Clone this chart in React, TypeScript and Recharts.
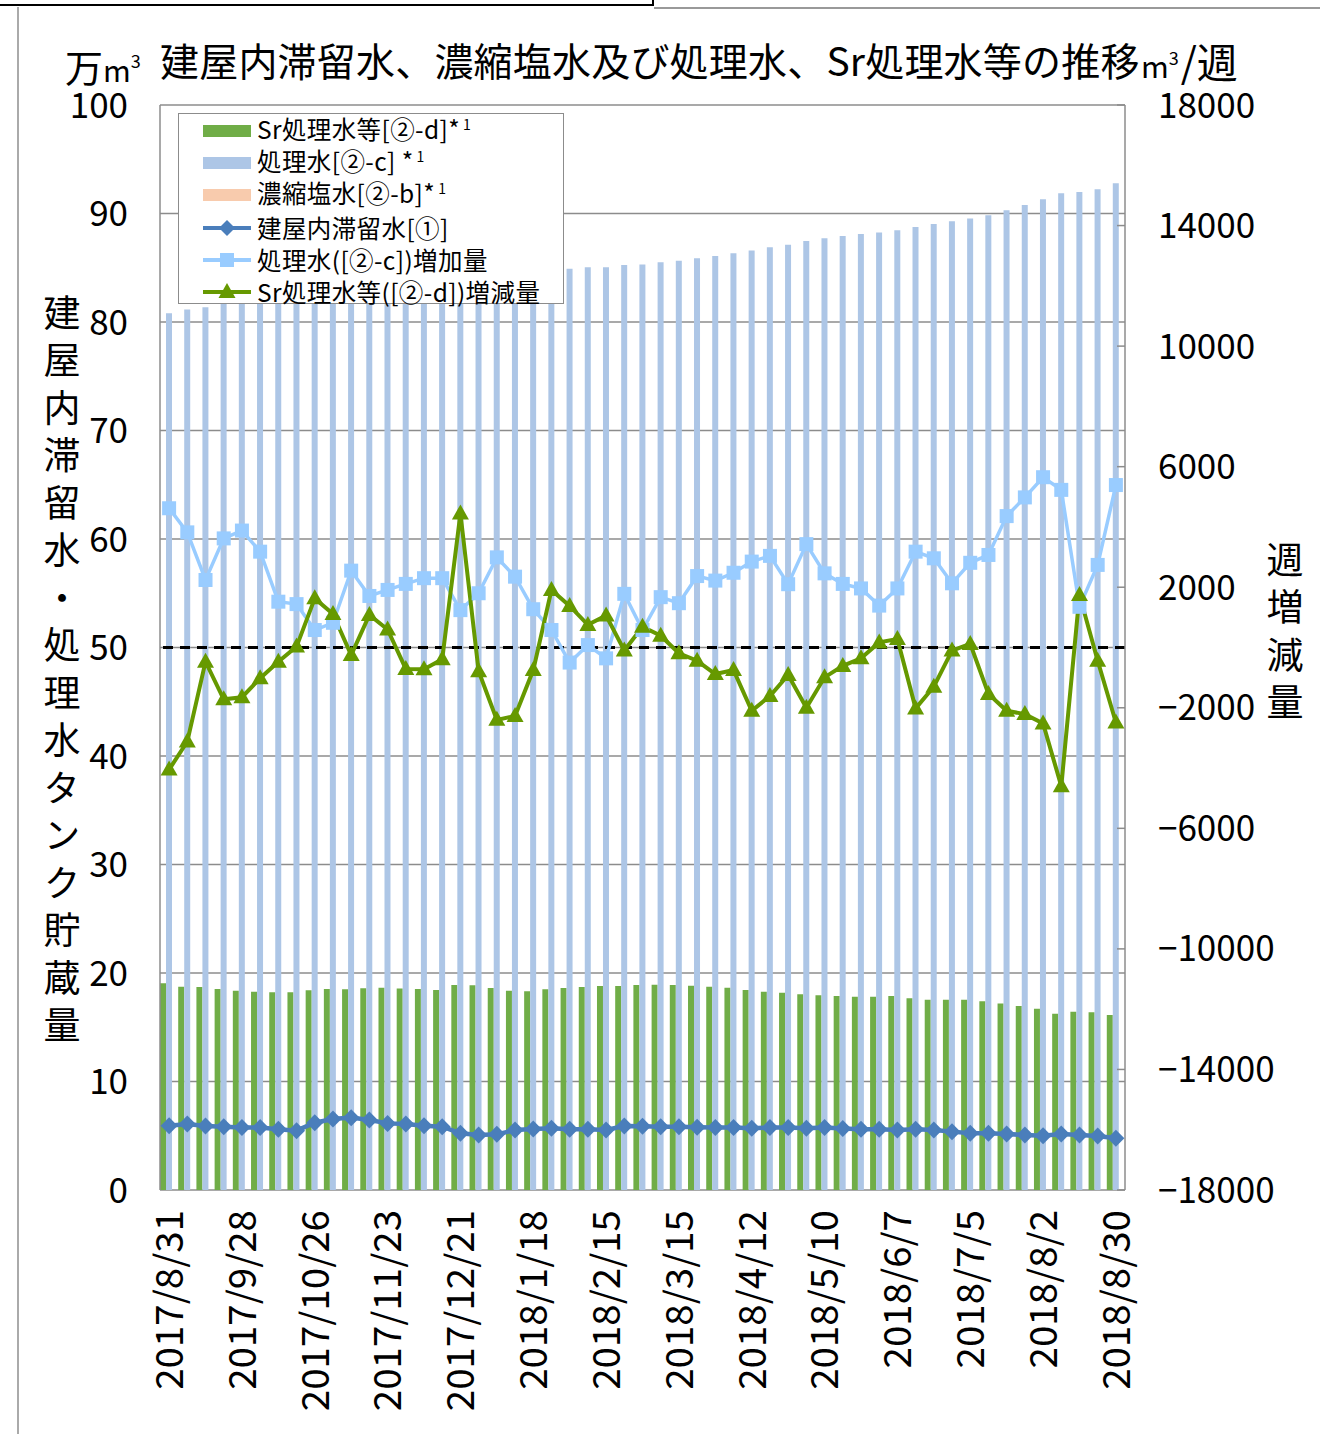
import React from 'react';
import { ComposedChart, Bar, Line, XAxis, YAxis, CartesianGrid, ReferenceLine } from 'recharts';

const FONT = '"Noto Sans CJK JP", "Noto Sans", sans-serif';

const dates = [
  '2017/8/31', '2017/9/7', '2017/9/14', '2017/9/21', '2017/9/28', '2017/10/5', '2017/10/12', '2017/10/19',
  '2017/10/26', '2017/11/2', '2017/11/9', '2017/11/16', '2017/11/23', '2017/11/30', '2017/12/7', '2017/12/14',
  '2017/12/21', '2017/12/28', '2018/1/4', '2018/1/11', '2018/1/18', '2018/1/25', '2018/2/1', '2018/2/8',
  '2018/2/15', '2018/2/22', '2018/3/1', '2018/3/8', '2018/3/15', '2018/3/22', '2018/3/29', '2018/4/5',
  '2018/4/12', '2018/4/19', '2018/4/26', '2018/5/3', '2018/5/10', '2018/5/17', '2018/5/24', '2018/5/31',
  '2018/6/7', '2018/6/14', '2018/6/21', '2018/6/28', '2018/7/5', '2018/7/12', '2018/7/19', '2018/7/26',
  '2018/8/2', '2018/8/9', '2018/8/16', '2018/8/23', '2018/8/30',
];

// 万m3 (left axis)
const srWater = [
  19.05, 18.74, 18.71, 18.53, 18.37, 18.28, 18.22, 18.22, 18.40, 18.53,
  18.50, 18.59, 18.65, 18.56, 18.53, 18.43, 18.89, 18.86, 18.62, 18.37,
  18.31, 18.50, 18.62, 18.71, 18.80, 18.80, 18.89, 18.92, 18.89, 18.83,
  18.74, 18.65, 18.43, 18.28, 18.19, 18.03, 17.94, 17.88, 17.82, 17.82,
  17.88, 17.67, 17.54, 17.54, 17.54, 17.39, 17.20, 16.96, 16.71, 16.25,
  16.44, 16.38, 16.13,
];

const treatedWater = [
  80.80, 81.15, 81.35, 81.70, 82.05, 82.35, 82.50, 82.60, 82.65, 82.75,
  83.00, 83.15, 83.35, 83.55, 83.75, 84.00, 84.10, 84.25, 84.50, 84.70,
  84.80, 84.85, 84.90, 85.05, 85.05, 85.25, 85.30, 85.50, 85.65, 85.87,
  86.08, 86.33, 86.60, 86.90, 87.12, 87.47, 87.71, 87.93, 88.11, 88.26,
  88.45, 88.76, 89.03, 89.28, 89.55, 89.83, 90.30, 90.78, 91.31, 91.86,
  91.98, 92.23, 92.78,
];

const concWater = [
  0, 0, 0, 0, 0, 0, 0, 0, 0, 0,
  0, 0, 0, 0, 0, 0, 0, 0, 0, 0,
  0, 0, 0, 0, 0, 0, 0, 0, 0, 0,
  0, 0, 0, 0, 0, 0, 0, 0, 0, 0,
  0, 0, 0, 0, 0, 0, 0, 0, 0, 0,
  0, 0, 0,
];

const buildingWater = [
  5.93, 6.08, 5.90, 5.84, 5.75, 5.75, 5.59, 5.47, 6.20, 6.54,
  6.67, 6.45, 6.14, 6.08, 5.93, 5.84, 5.22, 5.07, 5.13, 5.53,
  5.62, 5.68, 5.59, 5.59, 5.53, 5.90, 5.87, 5.84, 5.84, 5.78,
  5.75, 5.75, 5.68, 5.75, 5.75, 5.68, 5.75, 5.66, 5.59, 5.59,
  5.53, 5.59, 5.53, 5.38, 5.22, 5.22, 5.16, 5.07, 5.01, 5.16,
  5.07, 4.98, 4.76,
];

// m3/週 (right axis)
const treatedIncrease = [
  4620, 3820, 2240, 3620, 3880, 3180, 1520, 1440, 580, 820,
  2550, 1710, 1910, 2110, 2300, 2300, 1240, 1800, 2990, 2350,
  1270, 580, -500, 80, -360, 1780, 580, 1670, 1470, 2370,
  2220, 2480, 2850, 3040, 2100, 3430, 2460, 2110, 1960, 1390,
  1960, 3180, 2960, 2130, 2810, 3070, 4360, 4980, 5650, 5230,
  1350, 2740, 5390,
];

const srChange = [
  -4050, -3120, -470, -1720, -1650, -1020, -470, 30, 1630, 1110,
  -250, 1080, 600, -710, -720, -390, 4450, -790, -2400, -2270,
  -750, 1910, 1380, 750, 1060, -100, 690, 390, -190, -440,
  -880, -750, -2100, -1610, -910, -2000, -990, -610, -360, 170,
  280, -2020, -1300, -100, 120, -1540, -2100, -2210, -2520, -4600,
  1740, -440, -2490,
];

const leftTicks = [0, 10, 20, 30, 40, 50, 60, 70, 80, 90, 100];
const rightTicks = [-18000, -14000, -10000, -6000, -2000, 2000, 6000, 10000, 14000, 18000];

const rows = dates.map((d, i) => ({
  date: d,
  sr: srWater[i],
  treated: treatedWater[i],
  conc: concWater[i],
  building: buildingWater[i],
  tInc: treatedIncrease[i],
  sInc: srChange[i],
}));

const C_SR = '#70AD47';
const C_TREATED = '#ADC6E6';
const C_CONC = '#F8CBAD';
const C_BUILD = '#4A7EBB';
const C_TINC = '#99CCFF';
const C_SINC = '#669900';
const GRID = '#8c8c8c';

const TICK_FS = 35;
const XTICK_FS = 38.5;

const LeftTick = (p: any) => (
  <text x={p.x} y={p.y} dy="0.36em" textAnchor="end" fontSize={TICK_FS} fontFamily={FONT} fill="#000">
    {p.payload.value}
  </text>
);

const R_MARGIN = 33;
const RightTick = (p: any) => {
  const v = p.payload.value;
  const label = v < 0 ? '\u2212' + Math.abs(v) : String(v);
  const ax = p.x - R_MARGIN;
  return (
    <g>
      <line x1={ax - 8} x2={ax} y1={p.y} y2={p.y} stroke={GRID} strokeWidth={1.5} />
      <text x={p.x} y={p.y} dy="0.36em" textAnchor="start" fontSize={TICK_FS} fontFamily={FONT} fill="#000">
        {label}
      </text>
    </g>
  );
};

const XTick = (p: any) => (
  <text
    x={p.x}
    y={p.y}
    dy="0.36em"
    textAnchor="end"
    transform={`rotate(-90 ${p.x} ${p.y})`}
    fontSize={XTICK_FS}
    fontFamily={FONT}
    fill="#000"
  >
    {p.payload.value}
  </text>
);

const Diamond = (p: any) => {
  const { cx, cy } = p;
  if (cx == null || cy == null) return <g key={`dm-${p.index}`} />;
  const s = 8.5;
  return <path key={`dm-${p.index}`} d={`M${cx},${cy - s}L${cx + s},${cy}L${cx},${cy + s}L${cx - s},${cy}Z`} fill={C_BUILD} />;
};

const Square = (p: any) => {
  const { cx, cy } = p;
  if (cx == null || cy == null) return <g key={`sq-${p.index}`} />;
  const s = 7;
  return <rect key={`sq-${p.index}`} x={cx - s} y={cy - s} width={2 * s} height={2 * s} fill={C_TINC} />;
};

const Triangle = (p: any) => {
  const { cx, cy } = p;
  if (cx == null || cy == null) return <g key={`tr-${p.index}`} />;
  return <path key={`tr-${p.index}`} d={`M${cx},${cy - 9}L${cx + 8.5},${cy + 6}L${cx - 8.5},${cy + 6}Z`} fill={C_SINC} />;
};

const legendItems = [
  { kind: 'bar', color: C_SR, label: 'Sr処理水等[②-d]*', sup: '1' },
  { kind: 'bar', color: C_TREATED, label: '処理水[②-c] *', sup: '1' },
  { kind: 'bar', color: C_CONC, label: '濃縮塩水[②-b]*', sup: '1' },
  { kind: 'diamond', color: C_BUILD, label: '建屋内滞留水[①]', sup: '' },
  { kind: 'square', color: C_TINC, label: '処理水([②-c])増加量', sup: '' },
  { kind: 'triangle', color: C_SINC, label: 'Sr処理水等([②-d])増減量', sup: '' },
];

const LegendIcon = ({ kind, color }: { kind: string; color: string }) => (
  <svg width={48} height={20} style={{ display: 'block' }}>
    {kind === 'bar' && <rect x={0} y={4} width={48} height={12} fill={color} />}
    {kind !== 'bar' && <line x1={0} x2={48} y1={10} y2={10} stroke={color} strokeWidth={4} />}
    {kind === 'diamond' && <path d="M24,2L32,10L24,18L16,10Z" fill={color} />}
    {kind === 'square' && <rect x={17} y={3} width={14} height={14} fill={color} />}
    {kind === 'triangle' && <path d="M24,1L32.5,16L15.5,16Z" fill={color} />}
  </svg>
);

const VerticalText = ({ text, left, top }: { text: string; left: number; top: number }) => (
  <div
    style={{
      position: 'absolute',
      left,
      top,
      width: 44,
      writingMode: 'vertical-rl',
      fontSize: 37,
      lineHeight: '44px',
      letterSpacing: '10.5px',
      fontFamily: FONT,
      color: '#000',
      whiteSpace: 'nowrap',
    }}
  >
    {text}
  </div>
);

export default function App() {
  return (
    <div style={{ position: 'absolute', left: 0, top: 0, width: 1320, height: 1434, background: '#fff', overflow: 'hidden' }}>
      {/* page frame fragments */}
      <div style={{ position: 'absolute', left: 0, top: 4, width: 654, height: 2, background: '#000' }} />
      <div style={{ position: 'absolute', left: 652, top: 0, width: 2, height: 6, background: '#000' }} />
      <div style={{ position: 'absolute', left: 654, top: 7, width: 666, height: 1.5, background: '#999' }} />
      <div style={{ position: 'absolute', left: 17, top: 7, width: 1.5, height: 1427, background: '#aaa' }} />

      <ComposedChart
        width={1320}
        height={1434}
        data={rows}
        margin={{ top: 105, right: 0, left: 0, bottom: 0 }}
        barCategoryGap={0}
        barGap={0}
      >
        <CartesianGrid yAxisId="left" vertical={false} stroke={GRID} strokeWidth={1.5} />
        <XAxis
          dataKey="date"
          interval={3}
          height={244}
          tickSize={0}
          tickMargin={20}
          tickLine={false}
          axisLine={false}
          tick={<XTick />}
        />
        <YAxis
          yAxisId="left"
          orientation="left"
          width={160}
          domain={[0, 100]}
          ticks={leftTicks}
          interval={0}
          tickSize={0}
          tickMargin={32}
          tickLine={false}
          axisLine={{ stroke: GRID, strokeWidth: 1.5 }}
          tick={<LeftTick />}
        />
        <YAxis
          yAxisId="right"
          orientation="right"
          width={195}
          domain={[-18000, 18000]}
          ticks={rightTicks}
          interval={0}
          tickSize={0}
          tickMargin={R_MARGIN}
          tickLine={false}
          axisLine={{ stroke: GRID, strokeWidth: 1.5 }}
          tick={<RightTick />}
        />
        <Bar yAxisId="left" dataKey="sr" fill={C_SR} isAnimationActive={false} />
        <Bar yAxisId="left" dataKey="treated" fill={C_TREATED} isAnimationActive={false} />
        <Bar yAxisId="left" dataKey="conc" fill={C_CONC} isAnimationActive={false} />
        <ReferenceLine yAxisId="right" y={0} stroke="#000" strokeWidth={3} strokeDasharray="10 7" />
        <Line
          yAxisId="left"
          type="linear"
          dataKey="building"
          stroke={C_BUILD}
          strokeWidth={4.5}
          dot={Diamond}
          activeDot={false}
          isAnimationActive={false}
        />
        <Line
          yAxisId="right"
          type="linear"
          dataKey="tInc"
          stroke={C_TINC}
          strokeWidth={3.5}
          dot={Square}
          activeDot={false}
          isAnimationActive={false}
        />
        <Line
          yAxisId="right"
          type="linear"
          dataKey="sInc"
          stroke={C_SINC}
          strokeWidth={4}
          dot={Triangle}
          activeDot={false}
          isAnimationActive={false}
        />
      </ComposedChart>

      {/* Title */}
      <div style={{ position: 'absolute', left: 65, top: 51, fontFamily: FONT, whiteSpace: 'nowrap', lineHeight: '30px', color: '#000' }}>
        <span style={{ fontSize: 38 }}>万</span>
        <span style={{ fontSize: 30 }}>m</span>
        <span style={{ fontSize: 18, position: 'relative', top: -14 }}>3</span>
      </div>
      <div style={{ position: 'absolute', left: 160, top: 41, fontFamily: FONT, fontSize: 39, whiteSpace: 'nowrap', lineHeight: '36px', color: '#000', letterSpacing: 0.2 }}>
        建屋内滞留水、濃縮塩水及び処理水、Sr処理水等の推移
      </div>
      <div style={{ position: 'absolute', left: 1141, top: 44, fontFamily: FONT, whiteSpace: 'nowrap', lineHeight: '32px', color: '#000' }}>
        <span style={{ fontSize: 30 }}>m</span>
        <span style={{ fontSize: 18, position: 'relative', top: -13 }}>3</span>
        <span style={{ fontSize: 41, marginLeft: 2 }}>/週</span>
      </div>

      {/* Axis titles */}
      <VerticalText text="建屋内滞留水・処理水タンク貯蔵量" left={40} top={294} />
      <VerticalText text="週増減量" left={1263} top={541} />

      {/* Legend */}
      <div
        style={{
          position: 'absolute',
          left: 178,
          top: 113,
          width: 386,
          height: 191,
          background: '#fff',
          border: '1.5px solid #8c8c8c',
          boxSizing: 'border-box',
          paddingTop: 1,
          fontFamily: FONT,
        }}
      >
        {legendItems.map((it, i) => (
          <div key={i} style={{ display: 'flex', alignItems: 'center', height: 32.2, paddingLeft: 24 }}>
            <LegendIcon kind={it.kind} color={it.color} />
            <span style={{ fontSize: 24.5, marginLeft: 6, whiteSpace: 'nowrap', lineHeight: '30px', letterSpacing: 0.4 }}>
              {it.label}
              {it.sup && <span style={{ fontSize: 14, position: 'relative', top: -9, marginLeft: 3 }}>{it.sup}</span>}
            </span>
          </div>
        ))}
      </div>
    </div>
  );
}
